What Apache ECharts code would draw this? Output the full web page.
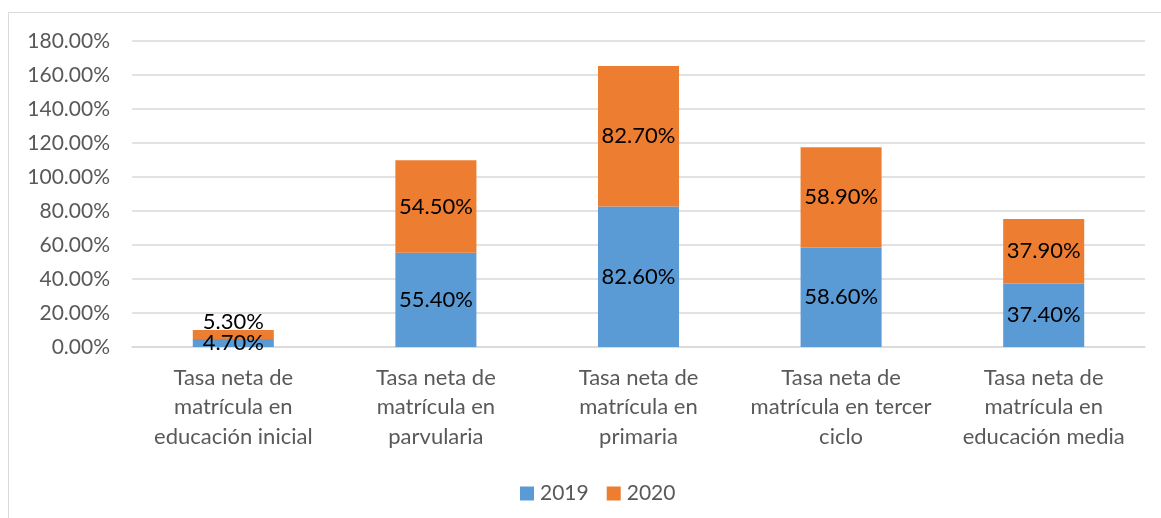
<!DOCTYPE html>
<html>
<head>
<meta charset="utf-8">
<script src="https://cdn.jsdelivr.net/npm/echarts@6/dist/echarts.min.js"></script>
<style>
html,body{margin:0;padding:0;background:#fff;}
#chart{width:1161px;height:518px;}
</style>
</head>
<body>
<div id="chart"></div>
<script>
const categories = [
  "Tasa neta de\nmatrícula en\neducación inicial",
  "Tasa neta de\nmatrícula en\nparvularia",
  "Tasa neta de\nmatrícula en\nprimaria",
  "Tasa neta de\nmatrícula en tercer\nciclo",
  "Tasa neta de\nmatrícula en\neducación media"
];
const values2019 = [4.7, 55.4, 82.6, 58.6, 37.4];
const values2020 = [5.3, 54.5, 82.7, 58.9, 37.9];
const seriesNames = ["2019", "2020"];

const FONT = "Lato";
const chart = echarts.init(document.getElementById('chart'), null, {renderer: 'canvas'});

const fmt = p => p.value.toFixed(2) + '%';

chart.setOption({
  animation: false,
  textStyle: {fontFamily: FONT},
  graphic: [{
    type: 'rect',
    shape: {x: 8.5, y: 12.5, width: 1200, height: 600},
    style: {fill: 'none', stroke: '#D9D9D9', lineWidth: 1},
    silent: true
  }],
  grid: {left: 132, top: 41, width: 1013, height: 306},
  legend: {
    left: 520, top: 483, padding: 0,
    itemWidth: 14, itemHeight: 14, itemGap: 18,
    icon: 'rect',
    textStyle: {fontFamily: FONT, fontSize: 21, color: '#595959', padding: [0,0,0,1]},
    data: seriesNames
  },
  xAxis: {
    type: 'category',
    data: categories,
    axisTick: {show: false},
    axisLine: {lineStyle: {color: '#D9D9D9', width: 1.5}},
    axisLabel: {
      interval: 0, margin: 16,
      fontFamily: FONT, fontSize: 22, color: '#595959', lineHeight: 29.5
    }
  },
  yAxis: {
    type: 'value',
    min: 0, max: 180, interval: 20,
    axisLine: {show: false},
    axisTick: {show: false},
    splitLine: {lineStyle: {color: '#D9D9D9', width: 1.5}},
    axisLabel: {
      margin: 22, fontFamily: FONT, fontSize: 21, color: '#595959',
      formatter: v => v.toFixed(2) + '%'
    }
  },
  series: [
    {
      name: seriesNames[0], type: 'bar', stack: 'total',
      barWidth: '40%',
      itemStyle: {color: '#5B9BD5'},
      label: {show: true, position: 'inside', formatter: fmt, color: '#000', fontFamily: FONT, fontSize: 22},
      data: values2019
    },
    {
      name: seriesNames[1], type: 'bar', stack: 'total',
      barWidth: '40%',
      itemStyle: {color: '#ED7D31'},
      label: {show: true, position: 'inside', formatter: fmt, color: '#000', fontFamily: FONT, fontSize: 22},
      labelLayout: p => p.dataIndex === 0 ? {dy: -13} : {},
      data: values2020
    }
  ]
});
</script>
</body>
</html>
